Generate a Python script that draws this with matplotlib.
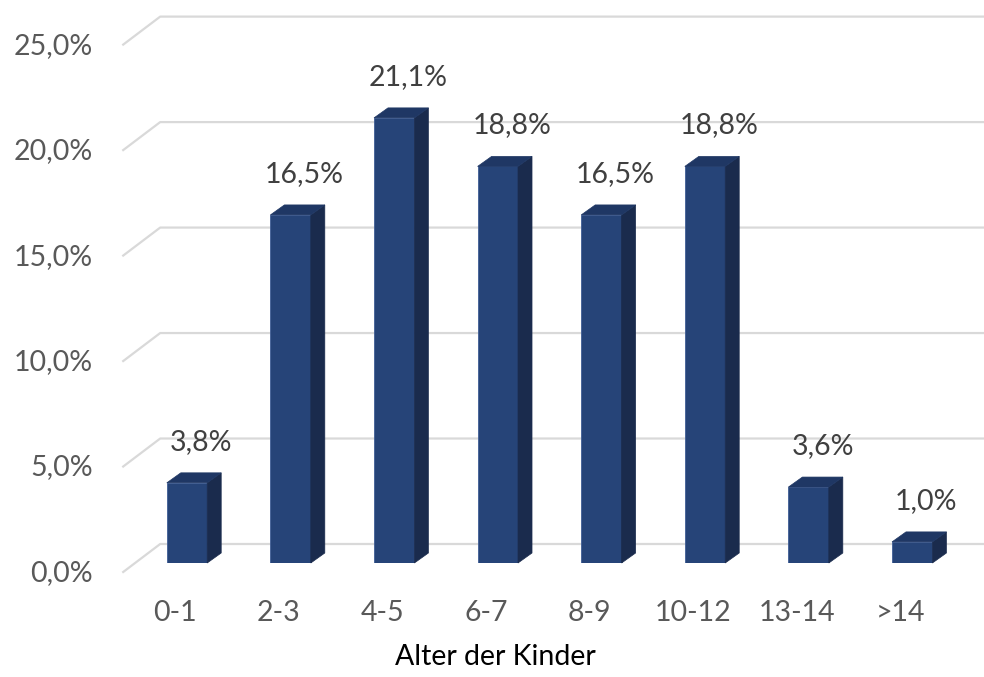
import matplotlib.pyplot as plt
from matplotlib.patches import Polygon
from matplotlib.lines import Line2D
from matplotlib.transforms import IdentityTransform

categories = ['0-1', '2-3', '4-5', '6-7', '8-9', '10-12', '13-14', '>14']
shares = [3.8, 16.5, 21.1, 18.8, 16.5, 18.8, 3.6, 1.0]
y_ticks = [0, 5, 10, 15, 20, 25]
x_title = 'Alter der Kinder'

FRONT = '#264478'
SIDE = '#1a2b4d'
TOP = '#1f3764'
GRID = '#d9d9d9'
TICK_COLOR = '#595959'
LABEL_COLOR = '#404040'

# pixel offsets of the fake 3d look
DEPTH = (14, 10)      # bar depth
BACK = (25, 19)       # back wall relative to bar base plane
FRONT_OFF = (-12, -9)  # front floor edge relative to bar base plane
FS = 20.5

plt.rcParams['font.family'] = ['Lato', 'DejaVu Sans']
fig = plt.figure(figsize=(9.84, 6.77), dpi=100)
ax = fig.add_axes([0.1374, 0.1684, 0.8423, 0.779])
ax.set_xlim(-0.5, len(categories) - 0.5)
ax.set_ylim(0, 25)
ax.axis('off')
ident = IdentityTransform()


def fmt(v):
    return f'{v:.1f}'.replace('.', ',') + '%'


# gridlines: diagonal on the side wall + horizontal on the back wall
for v in y_ticks:
    px, py = ax.transData.transform((-0.5, v))
    fx, fy = px + FRONT_OFF[0], py + FRONT_OFF[1]
    bx, by = px + BACK[0], py + BACK[1]
    ax.add_line(Line2D([fx, bx, fig.bbox.width], [fy, by, by],
                       color=GRID, lw=1.6, transform=ident, zorder=1, clip_on=False))
    ax.annotate(fmt(v), xy=(-0.5, v), xytext=(-42, -10), textcoords='offset pixels',
                ha='right', va='center', fontsize=FS, color=TICK_COLOR,
                annotation_clip=False)

width = 0.39
bars = ax.bar(range(len(categories)), shares, width=width, color=FRONT,
              edgecolor='#3f5d95', linewidth=0.6, zorder=3)

dx, dy = DEPTH
for i, (b, v) in enumerate(zip(bars, shares)):
    x0, y0 = ax.transData.transform((b.get_x(), 0))
    x1, y1 = ax.transData.transform((b.get_x() + b.get_width(), v))
    side = Polygon([(x1, y0), (x1, y1), (x1 + dx, y1 + dy), (x1 + dx, y0 + dy)],
                   closed=True, facecolor=SIDE, edgecolor=SIDE, lw=0.5,
                   transform=ident, zorder=3, clip_on=False)
    top = Polygon([(x0, y1), (x1, y1), (x1 + dx, y1 + dy), (x0 + dx, y1 + dy)],
                  closed=True, facecolor=TOP, edgecolor=TOP, lw=0.5,
                  transform=ident, zorder=3, clip_on=False)
    ax.add_patch(side)
    ax.add_patch(top)
    ax.annotate(fmt(v), xy=(i, v), xytext=(14, 41), textcoords='offset pixels',
                ha='center', va='center', fontsize=FS, color=LABEL_COLOR,
                annotation_clip=False)
    ax.annotate(categories[i], xy=(i, 0), xytext=(-12, -50), textcoords='offset pixels',
                ha='center', va='center', fontsize=FS, color=TICK_COLOR,
                annotation_clip=False)

fig.text(495 / 984, 1 - 657 / 677, x_title, ha='center', va='center',
         fontsize=FS, color='black')

fig.savefig('out.png', dpi=100)
